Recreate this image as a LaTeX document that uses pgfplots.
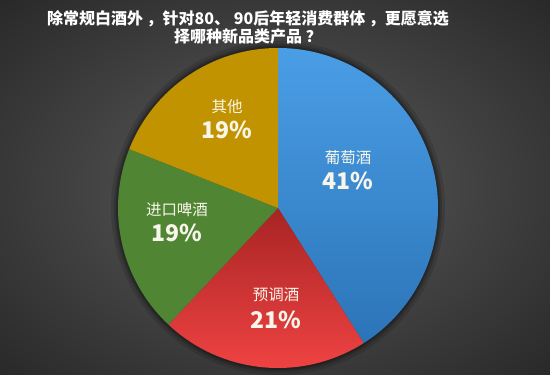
\documentclass[border=0pt]{standalone}
\usepackage{pgfplots}
\pgfplotsset{compat=1.18}
\usepackage{pgfplotstable}
\usepackage{fontspec}
\newfontfamily\cjk{Noto Sans CJK SC}
\definecolor{bgin}{HTML}{5C5C5C}
\definecolor{bgmid}{HTML}{3C3C3C}
\definecolor{bgout}{HTML}{141414}
\definecolor{bluetop}{HTML}{4A9EE6}
\definecolor{bluebot}{HTML}{2C74B8}
\definecolor{redtop}{HTML}{A82424}
\definecolor{redbot}{HTML}{F54545}
\definecolor{greenc}{HTML}{4F8533}
\definecolor{goldc}{HTML}{C29300}
\definecolor{labc}{HTML}{F8F6EA}
\pgfdeclareradialshading{bgshade}{\pgfpoint{0bp}{0bp}}{color(0bp)=(bgin); color(22bp)=(bgmid); color(50bp)=(bgout)}

\pgfplotstableread[col sep=comma]{
label,value
葡萄酒,41
预调酒,21
进口啤酒,19
其他,19
}\piedata

\pgfplotstablegetelem{0}{value}\of\piedata \let\va\pgfplotsretval
\pgfplotstablegetelem{1}{value}\of\piedata \let\vb\pgfplotsretval
\pgfplotstablegetelem{2}{value}\of\piedata \let\vc\pgfplotsretval
\pgfplotstablegetelem{3}{value}\of\piedata \let\vd\pgfplotsretval
\pgfmathsetmacro{\aA}{90}
\pgfmathsetmacro{\aB}{\aA-3.6*\va}
\pgfmathsetmacro{\aC}{\aB-3.6*\vb}
\pgfmathsetmacro{\aD}{\aC-3.6*\vc}
\pgfmathsetmacro{\aE}{\aD-3.6*\vd}

\begin{document}
\begin{tikzpicture}[x=1pt,y=1pt]
\shade[shading=bgshade] (0,0) rectangle (550,375);
\begin{axis}[
  hide axis, scale only axis,
  width=550pt, height=375pt,
  xmin=0, xmax=550, ymin=0, ymax=375,
  at={(0,0)}, anchor=south west,
  clip=false,
]
% halo
\fill[black, opacity=0.12] (axis cs:278,167) circle[radius=167pt];
\fill[black, opacity=0.15] (axis cs:278,167) circle[radius=164pt];
\fill[black, opacity=0.2] (axis cs:278,167) circle[radius=162pt];
% slices
\shade[top color=bluetop, bottom color=bluebot] (axis cs:278,167) -- +(\aA:160pt) arc[start angle=\aA, end angle=\aB, radius=160pt] -- cycle;
\shade[top color=redtop, bottom color=redbot] (axis cs:278,167) -- +(\aB:160pt) arc[start angle=\aB, end angle=\aC, radius=160pt] -- cycle;
\fill[greenc] (axis cs:278,167) -- +(\aC:160pt) arc[start angle=\aC, end angle=\aD, radius=160pt] -- cycle;
\fill[goldc] (axis cs:278,167) -- +(\aD:160pt) arc[start angle=\aD, end angle=\aE, radius=160pt] -- cycle;
% labels
\node[text=labc, font=\cjk\fontsize{15.5}{16}\selectfont] at (axis cs:348,217) {葡萄酒};
\node[text=labc, font=\cjk\bfseries\fontsize{23}{24}\selectfont] at (axis cs:348,194) {41\%};
\node[text=labc, font=\cjk\fontsize{15.5}{16}\selectfont] at (axis cs:276,80) {预调酒};
\node[text=labc, font=\cjk\bfseries\fontsize{23}{24}\selectfont] at (axis cs:276,55) {21\%};
\node[text=labc, font=\cjk\fontsize{15.5}{16}\selectfont] at (axis cs:177,165) {进口啤酒};
\node[text=labc, font=\cjk\bfseries\fontsize{23}{24}\selectfont] at (axis cs:177,142) {19\%};
\node[text=labc, font=\cjk\fontsize{15.5}{16}\selectfont] at (axis cs:227,268) {其他};
\node[text=labc, font=\cjk\bfseries\fontsize{23}{24}\selectfont] at (axis cs:227,245) {19\%};
% title
\node[text=white, font=\cjk\bfseries\fontsize{16}{18}\selectfont, align=center] at (axis cs:248,348) {除常规白酒外 ，针对80、 90后年轻消费群体 ，更愿意选\\择哪种新品类产品 ？};
\end{axis}
\end{tikzpicture}
\end{document}
